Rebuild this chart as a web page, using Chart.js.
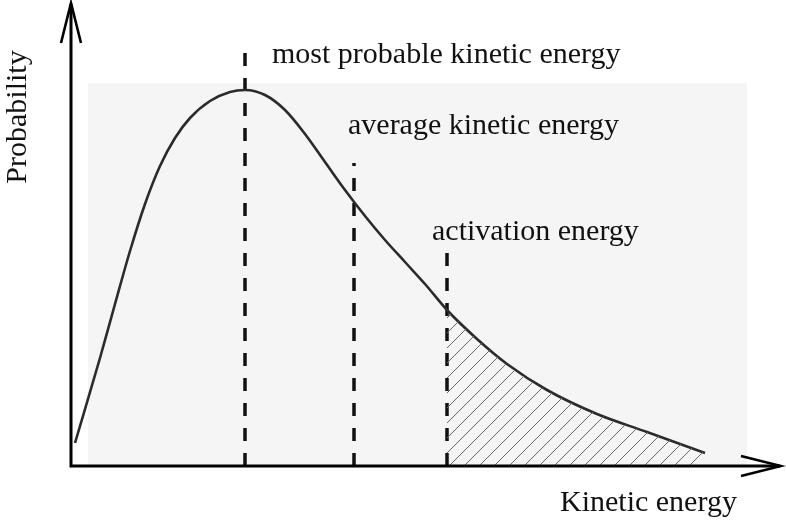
<!DOCTYPE html>
<html>
<head>
<meta charset="utf-8">
<script src="https://cdn.jsdelivr.net/npm/chart.js@4"></script>
<style>
  body { margin: 0; background: #fff; }
  canvas { display: block; }
</style>
</head>
<body>
<canvas id="mbChart" width="786" height="522"></canvas>
<script>
// ---- data (arbitrary units) ----
const energy = [0.04, 0.29, 0.44, 0.59, 0.74, 0.89, 1.04, 1.19, 1.39, 1.59, 1.74,
                1.94, 2.14, 2.34, 2.54, 2.74, 2.94, 3.14, 3.34, 3.54, 3.76,
                4.06, 4.36, 4.76, 5.26, 5.76, 6.34];
const probability = [0.23, 1.08, 1.62, 2.15, 2.62, 3.00, 3.28, 3.48, 3.65, 3.74, 3.76,
                     3.71, 3.56, 3.32, 3.04, 2.76, 2.50, 2.26, 2.04, 1.82, 1.56,
                     1.27, 1.02, 0.76, 0.52, 0.34, 0.13];

const markerNames = ['most probable kinetic energy', 'average kinetic energy', 'activation energy'];
const markerEnergy = [1.74, 2.83, 3.76];
const markerTop = [4.18, 3.03, 2.13];

const xTitle = 'Kinetic energy';
const yTitle = 'Probability';

const xMax = 7.1;
const yMax = 4.63;

// ---- build datasets ----
const curvePts = energy.map((e, i) => ({ x: e, y: probability[i] }));
const activation = markerEnergy[2];
const tailPts = curvePts.filter(p => p.x >= activation);

function hatchPattern() {
    const c = document.createElement('canvas');
    c.width = 15; c.height = 15;
    const g = c.getContext('2d');
    g.strokeStyle = '#6a6a6a';
    g.lineWidth = 1;
    g.beginPath();
    g.moveTo(0, 15); g.lineTo(15, 0);
    g.moveTo(-2, 2); g.lineTo(2, -2);
    g.moveTo(13, 17); g.lineTo(17, 13);
    g.stroke();
    return g.createPattern(c, 'repeat');
}

const markerSets = markerEnergy.map((e, i) => ({
    label: markerNames[i],
    data: [{ x: e, y: 0 }, { x: e, y: markerTop[i] }],
    showLine: true,
    borderColor: '#111',
    borderWidth: 3.5,
    borderDash: [13, 12],
    pointRadius: 0,
    fill: false
}));

// background panel, axis arrows and labels
const decor = {
    id: 'decor',
    beforeDatasetsDraw(chart) {
        const { ctx, scales: { x, y } } = chart;
        ctx.save();
        ctx.fillStyle = '#f5f5f5';
        const l = x.getPixelForValue(0.17), r = x.getPixelForValue(6.76);
        const t = y.getPixelForValue(3.83), b = y.getPixelForValue(0);
        ctx.fillRect(l, t, r - l, b - t);
        ctx.restore();
    },
    afterDatasetsDraw(chart) {
        const { ctx, chartArea: a } = chart;
        ctx.save();
        ctx.strokeStyle = '#000';
        ctx.lineWidth = 3;
        ctx.lineCap = 'butt';
        // axes
        ctx.beginPath();
        ctx.moveTo(a.left, a.bottom); ctx.lineTo(a.left, a.top + 1);
        ctx.moveTo(a.left - 1.5, a.bottom); ctx.lineTo(a.right - 1, a.bottom);
        ctx.stroke();
        // arrowheads
        ctx.lineWidth = 2.6;
        ctx.beginPath();
        ctx.moveTo(a.left - 10, a.top + 40); ctx.lineTo(a.left, a.top); ctx.lineTo(a.left + 10, a.top + 40);
        ctx.moveTo(a.right - 40, a.bottom - 10); ctx.lineTo(a.right, a.bottom); ctx.lineTo(a.right - 40, a.bottom + 10);
        ctx.stroke();

        // text
        ctx.fillStyle = '#111';
        ctx.font = '30px "Liberation Serif", "Times New Roman", serif';
        ctx.textAlign = 'left';
        ctx.textBaseline = 'alphabetic';
        const labelPos = [[272, 63], [348, 134], [432, 240]];
        markerNames.forEach((n, i) => ctx.fillText(n, labelPos[i][0], labelPos[i][1]));
        ctx.fillText(xTitle, 560, 511);

        ctx.translate(26, 117);
        ctx.rotate(-Math.PI / 2);
        ctx.textAlign = 'center';
        ctx.fillText(yTitle, 0, 0);
        ctx.restore();
    }
};

new Chart(document.getElementById('mbChart'), {
    type: 'scatter',
    data: {
        datasets: [
            {
                label: 'activation tail',
                data: tailPts,
                showLine: true,
                cubicInterpolationMode: 'monotone',
                borderWidth: 0,
                pointRadius: 0,
                backgroundColor: hatchPattern(),
                fill: 'origin'
            },
            {
                label: 'distribution',
                data: curvePts,
                showLine: true,
                cubicInterpolationMode: 'monotone',
                borderColor: '#2b2b2b',
                borderWidth: 2.6,
                pointRadius: 0,
                fill: false
            },
            ...markerSets
        ]
    },
    options: {
        responsive: false,
        animation: false,
        layout: { padding: { left: 71, right: 5, top: 3, bottom: 56 } },
        plugins: { legend: { display: false }, tooltip: { enabled: false } },
        scales: {
            x: { type: 'linear', min: 0, max: xMax, display: false },
            y: { type: 'linear', min: 0, max: yMax, display: false }
        }
    },
    plugins: [decor]
});
</script>
</body>
</html>
